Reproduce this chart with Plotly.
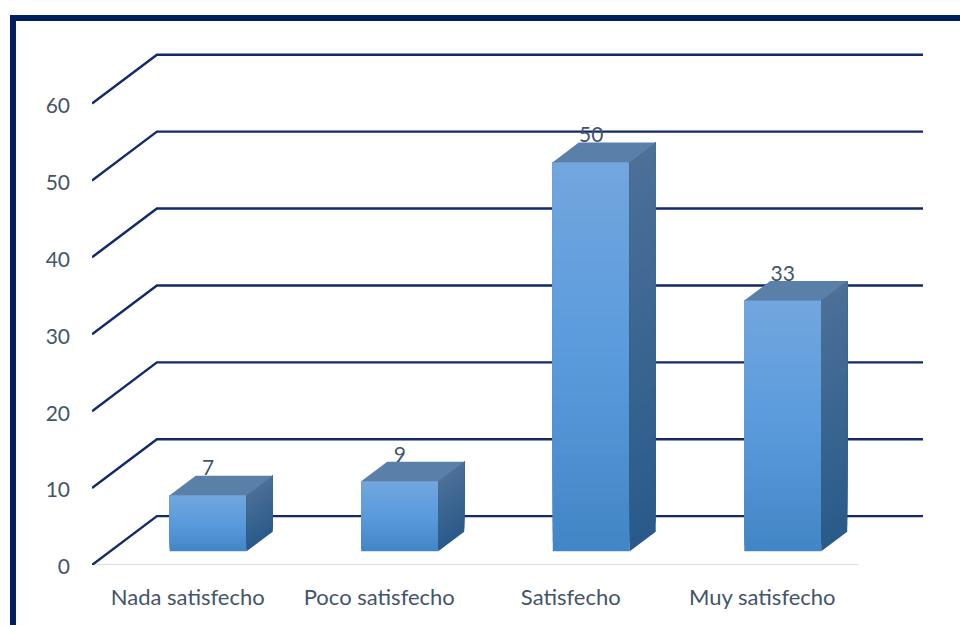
import plotly.graph_objects as go

categories = ["Nada satisfecho", "Poco satisfecho", "Satisfecho", "Muy satisfecho"]
bar_heights = [7.3, 9.1, 50.6, 32.6]
value_labels = ["7", "9", "50", "33"]
y_ticks = [0, 10, 20, 30, 40, 50, 60]

NAVY = "#002060"
GRID = "#12296a"
TEXT = "#44546a"
FONT = "Lato"

# oblique projection: how far the back wall is displaced, in axis units
DX, DY = 0.339, 6.35
FRONT_X, FRONT_Y, DEPTH = 0.315, 0.28, 0.4
BAR_W = 0.402
N = 40


def mix(stops, t):
    for (a, ca), (b, cb) in zip(stops, stops[1:]):
        if t <= b:
            f = (t - a) / (b - a)
            return "rgb(%d,%d,%d)" % tuple(round(p + (q - p) * f) for p, q in zip(ca, cb))
    return "rgb(%d,%d,%d)" % stops[-1][1]


# gradient stops: 0 = bottom of the bar, 1 = top
FRONT_STOPS = [(0, (66, 133, 197)), (0.5, (90, 155, 220)), (1, (114, 166, 222))]
SIDE_STOPS = [(0, (42, 90, 138)), (1, (76, 112, 152))]
TOP_COLOR = "#5a80a9"

xs = list(range(len(categories)))
front_x = [x + FRONT_X * DX for x in xs]
floor = FRONT_Y * DY
depth_x = DEPTH * DX
depth_y = DEPTH * DY

fig = go.Figure()

# front faces: overlapping layers, each running to the bar top, give a seamless gradient
for k in range(N):
    fig.add_trace(go.Bar(
        x=front_x,
        y=[h * (N - k) / N for h in bar_heights],
        base=[floor + h * k / N for h in bar_heights],
        width=BAR_W,
        marker=dict(color=mix(FRONT_STOPS, (k + 0.5) / N), line=dict(width=0)),
        hoverinfo="skip", showlegend=False,
    ))

# side faces
for k in range(N):
    px, py = [], []
    for fx, h in zip(front_x, bar_heights):
        r = fx + BAR_W / 2
        y0, y1 = floor + h * k / N, floor + h
        px += [r, r + depth_x, r + depth_x, r, None]
        py += [y0, y0 + depth_y, y1 + depth_y, y1, None]
    color = mix(SIDE_STOPS, (k + 0.5) / N)
    fig.add_trace(go.Scatter(
        x=px, y=py, mode="none", fill="toself", fillcolor=color,
        hoverinfo="skip", showlegend=False,
    ))

# top faces
px, py = [], []
for fx, h in zip(front_x, bar_heights):
    l, r = fx - BAR_W / 2, fx + BAR_W / 2
    t = floor + h
    px += [l, r, r + depth_x, l + depth_x, None]
    py += [t, t, t + depth_y, t + depth_y, None]
fig.add_trace(go.Scatter(
    x=px, y=py, mode="none", fill="toself", fillcolor=TOP_COLOR,
    hoverinfo="skip", showlegend=False,
))

# value labels
fig.add_trace(go.Scatter(
    x=front_x,
    y=[floor + h + 3.25 for h in bar_heights],
    mode="text", text=value_labels,
    textfont=dict(family=FONT, size=21, color=TEXT),
    textposition="middle center", hoverinfo="skip", showlegend=False,
))

# geometry of the page, in pixels
L, R, T, B = 92, 923, 42, 565
W, H = 960, 625


def pxx(v):
    return (v - L) / (R - L)


def pxy(v):
    return (B - v) / (B - T)


x_left, x_right = -0.5, len(categories) - 0.5
shapes = []
shapes.append(dict(
    type="line", xref="x", yref="y", layer="below",
    x0=x_left, x1=x_right, y0=0, y1=0, line=dict(color="#dcdfe6", width=2),
))
for v in y_ticks:
    shapes.append(dict(
        type="path", xref="x", yref="y", layer="below",
        path=f"M {x_left} {v} L {x_left + DX} {v + DY} L {x_right + DX} {v + DY}",
        line=dict(color=GRID, width=2.4),
    ))
# frame, open at the bottom and the right
shapes.append(dict(type="rect", xref="paper", yref="paper", layer="above",
                   x0=pxx(10), x1=pxx(16), y0=pxy(15), y1=pxy(625),
                   fillcolor=NAVY, line=dict(width=0)))
shapes.append(dict(type="rect", xref="paper", yref="paper", layer="above",
                   x0=pxx(10), x1=pxx(960), y0=pxy(15), y1=pxy(21),
                   fillcolor=NAVY, line=dict(width=0)))

fig.update_layout(
    width=W, height=H,
    margin=dict(l=L, r=W - R, t=T, b=H - B, pad=0, autoexpand=False),
    paper_bgcolor="white", plot_bgcolor="white",
    barmode="overlay", showlegend=False, shapes=shapes,
    font=dict(family=FONT, size=21, color=TEXT),
    xaxis=dict(
        range=[x_left, x_right + DX], tickmode="array", tickvals=xs, ticktext=categories,
        showgrid=False, zeroline=False, showline=False, ticks="",
        tickfont=dict(family=FONT, size=22, color=TEXT), ticklabelstandoff=17,
        fixedrange=True,
    ),
    yaxis=dict(
        range=[0, 68], tickmode="array", tickvals=y_ticks,
        showgrid=False, zeroline=False, showline=False, ticks="",
        tickfont=dict(family=FONT, size=21, color=TEXT), ticklabelstandoff=21,
        ticklabelshift=2, fixedrange=True,
    ),
)

fig.write_html("out.html", config=dict(displayModeBar=False),
               post_script="document.body.style.margin='0';document.body.style.overflow='hidden';")
